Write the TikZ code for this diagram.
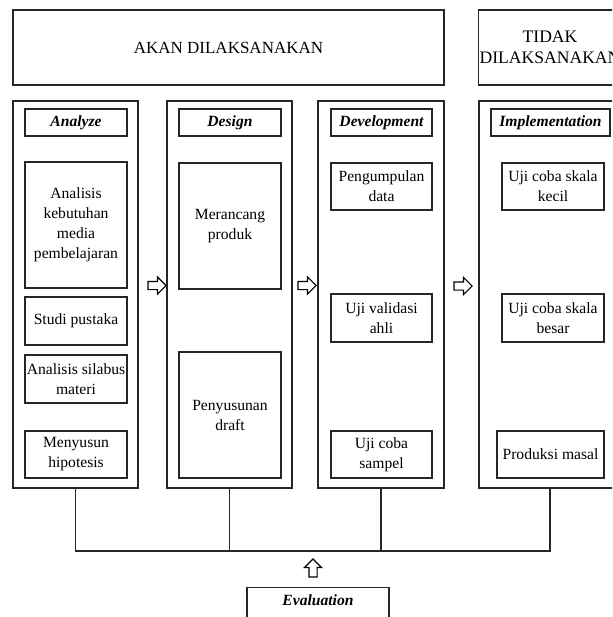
\documentclass[tikz,border=0pt]{standalone}
\usepackage{fontspec}
\setmainfont{Liberation Serif}
\usetikzlibrary{shapes.arrows}
\tikzset{
  box/.style={draw=black!85, line width=1.1pt, fill=white, align=center, inner sep=1pt,
    font=\fontsize{15.6}{20}\selectfont},
  bigbox/.style={box},
  colbox/.style={draw=black!85, line width=1.1pt, minimum height=387pt},
  headbox/.style={box, minimum height=27pt, font=\fontsize{15.6}{20}\selectfont\bfseries\itshape},
  blockarrow/.style={single arrow, draw=black, line width=1.1pt, fill=white, inner sep=3.5pt,
    minimum width=17pt, minimum height=18pt, single arrow head extend=4.5pt},
  link/.style={draw=black!85, line width=1.1pt}
}
\begin{document}
\begin{tikzpicture}[x=1pt, y=-1pt]
\useasboundingbox (0,0) rectangle (612,617);
\clip (0,0) rectangle (612,617);
\fill[white] (0,0) rectangle (612,617);

% top boxes
\node[bigbox, minimum width=431pt, minimum height=75pt, font=\fontsize{17}{21}\selectfont] (akan) at (228.5,47.5) {AKAN DILAKSANAKAN};
\node[bigbox, minimum width=142pt, minimum height=75pt, font=\fontsize{17.6}{21}\selectfont] (tidak) at (550,47.5) {TIDAK\\DILAKSANAKAN};

% columns
\node[colbox, minimum width=125pt] (colA) at (75.5,294.5) {};
\node[colbox, minimum width=125pt] (colD) at (229.5,294.5) {};
\node[colbox, minimum width=126pt] (colV) at (381,294.5) {};
\node[colbox, minimum width=142pt] (colI) at (550,294.5) {};

% headers
\node[headbox, minimum width=102pt] (hA) at (76,122.5) {Analyze};
\node[headbox, minimum width=102pt] (hD) at (230,122.5) {Design};
\node[headbox, minimum width=101pt] (hV) at (381.5,122.5) {Development};
\node[headbox, minimum width=119pt] (hI) at (550.5,122.5) {Implementation};

% Analyze
\node[box, minimum width=102pt, minimum height=126pt] (a1) at (76,225) {Analisis\\kebutuhan\\media\\pembelajaran};
\node[box, minimum width=102pt, minimum height=48pt] (a2) at (76,321) {Studi pustaka};
\node[box, minimum width=102pt, minimum height=48pt] (a3) at (76,379) {Analisis silabus\\materi};
\node[box, minimum width=102pt, minimum height=47pt] (a4) at (76,454.5) {Menyusun\\hipotesis};

% Design
\node[box, minimum width=102pt, minimum height=126pt] (d1) at (230,226) {Merancang\\produk};
\node[box, minimum width=102pt, minimum height=126pt] (d2) at (230,415) {Penyusunan\\draft};

% Development
\node[box, minimum width=101pt, minimum height=47pt] (v1) at (381.5,186.5) {Pengumpulan\\data};
\node[box, minimum width=101pt, minimum height=48pt] (v2) at (381.5,318) {Uji validasi\\ahli};
\node[box, minimum width=101pt, minimum height=47pt] (v3) at (381.5,454.5) {Uji coba\\sampel};

% Implementation
\node[box, minimum width=102pt, minimum height=47pt] (i1) at (553,186.5) {Uji coba skala\\kecil};
\node[box, minimum width=102pt, minimum height=48pt] (i2) at (553,318) {Uji coba skala\\besar};
\node[box, minimum width=107pt, minimum height=47pt] (i3) at (550.5,454.5) {Produksi masal};

% block arrows between columns
\node[blockarrow] (ar1) at (155,285.5) {};
\node[blockarrow] (ar2) at (305,285.5) {};
\node[blockarrow] (ar3) at (461,286) {};

% bus connectors
\coordinate (bus) at (76,551);
\draw[link] (colA.south) -- (colA.south |- bus) -- (colI.south |- bus) -- (colI.south);
\draw[link] (colD.south) -- (colD.south |- bus);
\draw[link] (colV.south) -- (colV.south |- bus);

% evaluation
\node[blockarrow, shape border rotate=90] (arup) at (313,570) {};
\node[box, anchor=north, minimum width=142pt, inner ysep=6pt, text height=12pt, text depth=30pt,
  font=\fontsize{15.6}{20}\selectfont\bfseries\itshape] (eval) at (318,587) {Evaluation};
\end{tikzpicture}
\end{document}
